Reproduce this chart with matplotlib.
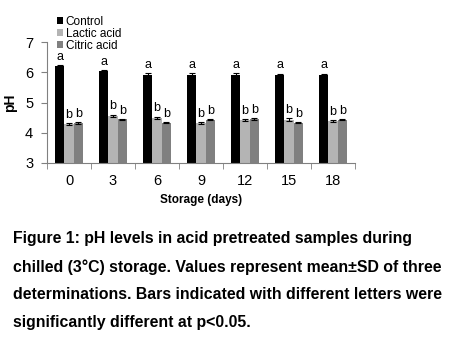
import matplotlib
matplotlib.use("Agg")
import matplotlib.pyplot as plt
import numpy as np

plt.rcParams['font.family'] = ['Liberation Sans', 'DejaVu Sans']

days = ["0", "3", "6", "9", "12", "15", "18"]
series = ["Control", "Lactic acid", "Citric acid"]
control = [6.20, 6.05, 5.92, 5.92, 5.92, 5.92, 5.92]
lactic = [4.29, 4.57, 4.49, 4.32, 4.43, 4.44, 4.39]
citric = [4.32, 4.45, 4.34, 4.44, 4.45, 4.34, 4.44]
control_sd = [0.05, 0.02, 0.05, 0.05, 0.05, 0.04, 0.04]
lactic_sd = [0.03, 0.03, 0.04, 0.03, 0.03, 0.04, 0.03]
citric_sd = [0.03, 0.01, 0.01, 0.01, 0.03, 0.01, 0.01]
letters_control = ["a"] * 7
letters_lactic = ["b"] * 7
letters_citric = ["b"] * 7
colors = ["#000000", "#b4b4b4", "#808080"]
caption = ("Figure 1: pH levels in acid pretreated samples during\n"
           "chilled (3°C) storage. Values represent mean±SD of three\n"
           "determinations. Bars indicated with different letters were\n"
           "significantly different at p<0.05.")

fig = plt.figure(figsize=(4.59, 3.57), dpi=100)
W, H = 459, 357
ax = fig.add_axes([47 / W, 1 - 163 / H, (355 - 47) / W, (163 - 42.3) / H])

x = np.arange(len(days))
bw = 0.215
data = [control, lactic, citric]
sds = [control_sd, lactic_sd, citric_sd]
lets = [letters_control, letters_lactic, letters_citric]
for i, (vals, sd, col, lab, lt) in enumerate(zip(data, sds, colors, series, lets)):
    pos = x + (i - 1) * bw
    ax.bar(pos, np.array(vals) - 3, bottom=3, width=bw, color=col, label=lab,
           yerr=sd, error_kw=dict(ecolor="black", elinewidth=0.8, capsize=2.5, capthick=0.8))
    for p, v, s, t in zip(pos, vals, sd, lt):
        ax.text(p, v + s + 0.08, t, ha="center", va="bottom", fontsize=9, color="black")

ax.set_ylim(3, 7)
ax.set_xlim(-0.5, len(days) - 0.5)
ax.set_yticks([3, 4, 5, 6, 7])
ax.set_xticks(x)
ax.set_xticklabels(days)
ax.set_xticks(np.arange(-0.5, len(days)), minor=True)
ax.tick_params(axis="x", which="major", length=0, pad=8, labelsize=10.5)
ax.tick_params(axis="x", which="minor", length=4, direction="out", color="#808080")
ax.tick_params(axis="y", length=4, direction="out", color="#808080", labelsize=10.5, pad=6)
for s in ["top", "right"]:
    ax.spines[s].set_visible(False)
for s in ["left", "bottom"]:
    ax.spines[s].set_color("#808080")
    ax.spines[s].set_linewidth(0.8)

ax.set_xlabel("Storage (days)", fontsize=8.5, fontweight="bold", labelpad=4)
ax.set_ylabel("pH", fontsize=10, fontweight="bold", labelpad=6)

leg = ax.legend(loc="upper left", bbox_to_anchor=(57 / W, 1 - 16 / H), bbox_transform=fig.transFigure,
                frameon=False, fontsize=8.5, handlelength=0.55, handleheight=0.55,
                handletextpad=0.2, labelspacing=0.0, borderpad=0, borderaxespad=0)

fig.text(13 / W, 1 - 231 / H, caption, ha="left", va="top", fontsize=11.4,
         fontweight="bold", linespacing=2.04)

fig.savefig("out.png", dpi=100)
